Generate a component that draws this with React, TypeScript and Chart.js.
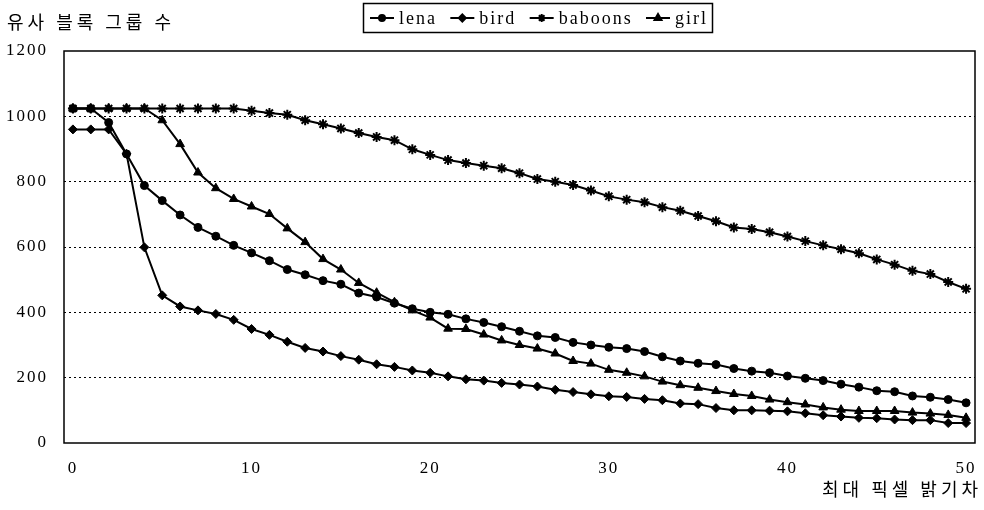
import React, { useEffect, useRef } from "react";
import { Chart, registerables } from "chart.js";
import { drawPoint } from "chart.js/helpers";

Chart.register(...registerables);

const categories = [
  "0", "1", "2", "3", "4", "5", "6", "7", "8", "9", "10",
  "11", "12", "13", "14", "15", "16", "17", "18", "19", "20",
  "21", "22", "23", "24", "25", "26", "27", "28", "29", "30",
  "31", "32", "33", "34", "35", "36", "37", "38", "39", "40",
  "41", "42", "43", "44", "45", "46", "47", "48", "49", "50",
];

const lena = [
  1024, 1024, 981, 885, 788, 742, 698, 660, 633, 605, 582,
  558, 531, 515, 497, 486, 459, 447, 428, 411, 400,
  394, 380, 369, 356, 342, 328, 323, 308, 300, 293,
  289, 280, 264, 251, 244, 240, 228, 220, 215, 205,
  198, 191, 180, 171, 160, 157, 144, 140, 133, 123,
];

const bird = [
  960, 960, 960, 885, 599, 452, 418, 406, 395, 377, 349,
  331, 310, 291, 280, 266, 255, 241, 233, 222, 215,
  204, 195, 191, 184, 179, 173, 163, 156, 149, 143,
  141, 135, 131, 121, 119, 107, 100, 100, 99, 97,
  91, 85, 81, 77, 76, 72, 70, 70, 61, 61,
];

const baboons = [
  1024, 1024, 1024, 1024, 1024, 1024, 1024, 1024, 1024, 1024, 1017,
  1010, 1005, 988, 976, 963, 949, 937, 927, 899, 882,
  866, 857, 849, 841, 826, 808, 800, 790, 773, 755,
  745, 737, 722, 711, 695, 679, 660, 655, 645, 632,
  618, 605, 593, 581, 562, 546, 527, 517, 493, 472,
];

const girl = [
  1024, 1024, 1024, 1024, 1024, 988, 915, 828, 780, 747, 724,
  701, 657, 615, 563, 531, 490, 460, 431, 406, 384,
  350, 349, 332, 314, 300, 289, 274, 251, 243, 224,
  215, 204, 188, 177, 169, 159, 150, 144, 133, 125,
  118, 109, 102, 98, 98, 98, 93, 90, 86, 77,
];

const seriesNames = ["lena", "bird", "baboons", "girl"];
const yTitle = "유사 블록 그룹 수";
const xTitle = "최대 픽셀 밝기차";

const markerStyles = [
  { pointStyle: "circle", radius: 4, borderWidth: 1 },
  { pointStyle: "rectRot", radius: 4.5, borderWidth: 1 },
  { pointStyle: "star", radius: 5, borderWidth: 2 },
  { pointStyle: "triangle", radius: 5, borderWidth: 1 },
];

const spacingPlugin = {
  id: "spacing",
  beforeDraw(chart: any) {
    chart.ctx.letterSpacing = "2px";
  },
  beforeDatasetsDraw(chart: any) {
    chart.ctx.letterSpacing = "0px";
  },
};

const decorPlugin = {
  id: "decor",
  afterDraw(chart: any) {
    const ctx = chart.ctx;
    const a = chart.chartArea;
    ctx.save();
    ctx.letterSpacing = "0px";
    ctx.strokeStyle = "#000";
    ctx.lineWidth = 1.5;
    ctx.setLineDash([]);
    ctx.strokeRect(a.left, a.top, a.right - a.left, a.bottom - a.top);

    // titles
    ctx.fillStyle = "#000";
    ctx.font = '18px "Noto Sans CJK KR"';
    ctx.letterSpacing = "4px";
    ctx.textBaseline = "middle";
    ctx.textAlign = "left";
    ctx.fillText(yTitle, 7, 22);
    ctx.textAlign = "right";
    ctx.fillText(xTitle, 982, 489);

    // legend
    const boxL = 363, boxT = 3, boxW = 349, boxH = 29;
    ctx.letterSpacing = "2px";
    ctx.font = '18px "Liberation Serif"';
    ctx.textAlign = "left";
    const lineLen = 24;
    const textGap = 5;
    const widths = seriesNames.map((n) => ctx.measureText(n).width);
    const itemW = widths.map((w) => lineLen + textGap + w);
    const startX = boxL + 7;
    const total = itemW.reduce((s, v) => s + v, 0);
    const gap = (boxL + boxW - 4 - startX - total) / 3;
    const cy = boxT + boxH / 2 + 0.5;
    let x = startX;
    seriesNames.forEach((name, i) => {
      ctx.strokeStyle = "#000";
      ctx.fillStyle = "#000";
      ctx.lineWidth = 2;
      ctx.beginPath();
      ctx.moveTo(x, cy);
      ctx.lineTo(x + lineLen, cy);
      ctx.stroke();
      const m = markerStyles[i];
      drawPoint(ctx, {
        pointStyle: m.pointStyle,
        radius: m.radius - 1,
        borderWidth: m.borderWidth,
        rotation: 0,
      } as any, x + lineLen / 2, cy);
      ctx.fillStyle = "#000";
      ctx.fillText(name, x + lineLen + textGap, cy + 1);
      x += itemW[i] + gap;
    });
    ctx.letterSpacing = "0px";
    ctx.lineWidth = 1.5;
    ctx.strokeStyle = "#000";
    ctx.strokeRect(boxL + 0.5, boxT + 0.5, boxW, boxH);
    ctx.restore();
  },
};

export default function App() {
  const ref = useRef<HTMLCanvasElement | null>(null);

  useEffect(() => {
    if (!ref.current) return;
    const data = [lena, bird, baboons, girl];
    const chart = new Chart(ref.current, {
      type: "line",
      data: {
        labels: categories,
        datasets: seriesNames.map((name, i) => ({
          label: name,
          data: data[i],
          borderColor: "#000",
          backgroundColor: "#000",
          borderWidth: 2,
          pointStyle: markerStyles[i].pointStyle as any,
          pointRadius: markerStyles[i].radius,
          pointBorderWidth: markerStyles[i].borderWidth,
          pointBackgroundColor: "#000",
          pointBorderColor: "#000",
          tension: 0,
          fill: false,
        })),
      },
      options: {
        animation: false,
        responsive: false,
        devicePixelRatio: 1,
        layout: { padding: { top: 51, right: 9, left: 0, bottom: 0 } },
        plugins: {
          legend: { display: false },
          tooltip: { enabled: false },
        },
        scales: {
          x: {
            type: "category",
            offset: true,
            grid: { display: false, drawTicks: false },
            border: { display: false },
            ticks: {
              autoSkip: false,
              maxRotation: 0,
              padding: 15,
              color: "#000",
              font: { family: "Liberation Serif", size: 17 },
              callback: (_v: any, i: number) => (i % 10 === 0 ? categories[i] : ""),
            },
            afterFit: (s: any) => {
              s.height = 67;
              s.paddingLeft = 0;
              s.paddingRight = 0;
            },
          },
          y: {
            min: 0,
            max: 1200,
            ticks: {
              stepSize: 200,
              padding: 16,
              color: "#000",
              font: { family: "Liberation Serif", size: 17 },
              callback: (v: any) => String(v),
            },
            grid: {
              drawTicks: false,
              lineWidth: 1,
              color: (c: any) =>
                c.tick && (c.tick.value === 0 || c.tick.value === 1200) ? "rgba(0,0,0,0)" : "#000",
              borderDash: [2, 3],
            } as any,
            border: { display: false, dash: [2, 3] },
            afterFit: (s: any) => {
              s.width = 64;
            },
          },
        },
      },
      plugins: [spacingPlugin, decorPlugin],
    });
    return () => chart.destroy();
  }, []);

  return (
    <div style={{ position: "fixed", left: 0, top: 0, width: 984, height: 510, background: "#fff" }}>
      <canvas ref={ref} width={984} height={510} style={{ display: "block" }} />
    </div>
  );
}
